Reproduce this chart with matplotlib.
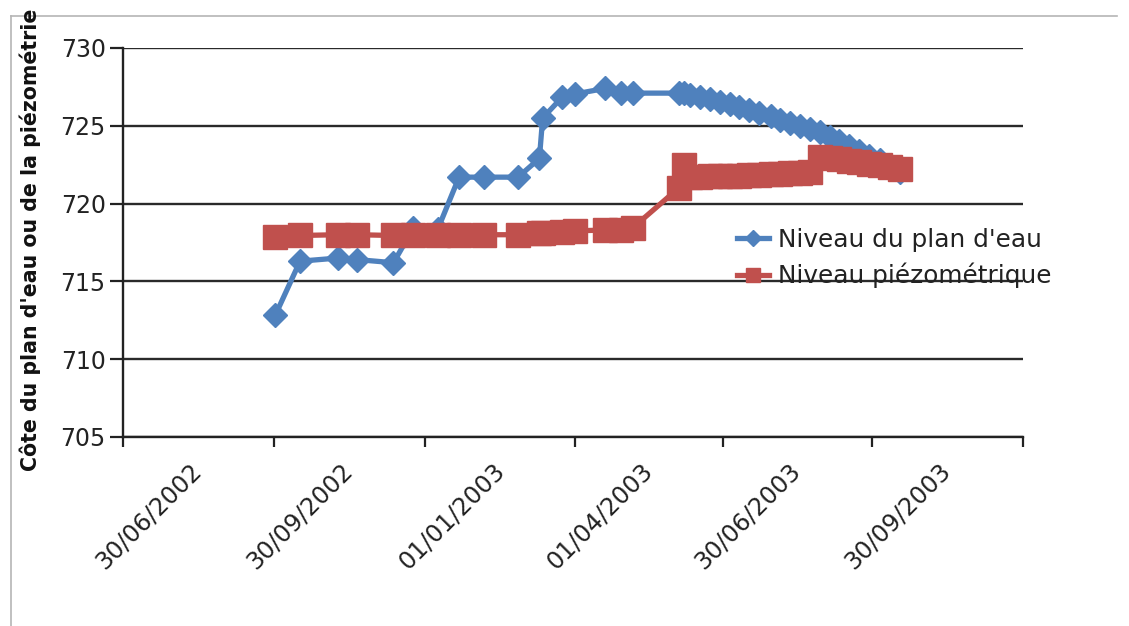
import matplotlib
matplotlib.use("Agg")
import matplotlib.pyplot as plt
import matplotlib.dates as mdates
import matplotlib.transforms as mtransforms
from matplotlib.lines import Line2D
import numpy as np
from datetime import datetime

# Survey dates (shared by both series)
dates = [
    "2002-08-16", "2002-08-31", "2002-09-23", "2002-10-05", "2002-10-27",
    "2002-11-08", "2002-11-23", "2002-12-06", "2002-12-21", "2003-01-11",
    "2003-01-24", "2003-01-26", "2003-02-07", "2003-02-15", "2003-03-05",
    "2003-03-15", "2003-03-22", "2003-04-19", "2003-04-22", "2003-04-26",
    "2003-05-02", "2003-05-08", "2003-05-14", "2003-05-20", "2003-05-26",
    "2003-06-01", "2003-06-07", "2003-06-14", "2003-06-20", "2003-06-26",
    "2003-07-02", "2003-07-08", "2003-07-14", "2003-07-20", "2003-07-26",
    "2003-08-01", "2003-08-07", "2003-08-13", "2003-08-20", "2003-08-26",
    "2003-09-01",
]

# Reservoir water level (m)
niveau_plan_eau = [
    712.85, 716.3, 716.5, 716.4, 716.2,
    718.4, 718.35, 721.7, 721.7, 721.7,
    722.9, 725.5, 726.85, 727.05, 727.4,
    727.1, 727.1, 727.1, 727.1, 727.0,
    726.85, 726.7, 726.55, 726.4, 726.2,
    726.0, 725.8, 725.6, 725.4, 725.2,
    725.0, 724.8, 724.6, 724.3, 724.0,
    723.7, 723.35, 723.05, 722.8, 722.45,
    722.05,
]

# Piezometric level (m)
niveau_piezometrique = [
    717.85, 717.95, 718.0, 718.0, 717.95,
    718.0, 718.0, 718.0, 718.0, 718.0,
    718.1, 718.1, 718.2, 718.25, 718.3,
    718.3, 718.45, 721.0, 722.5, 721.7,
    721.7, 721.75, 721.75, 721.8, 721.8,
    721.85, 721.85, 721.9, 721.9, 721.95,
    721.95, 722.0, 723.0, 722.95, 722.85,
    722.75, 722.65, 722.55, 722.45, 722.35,
    722.2,
]

tick_labels = ["30/06/2002", "30/09/2002", "01/01/2003",
               "01/04/2003", "30/06/2003", "30/09/2003"]
series_names = ["Niveau du plan d'eau", "Niveau piézométrique"]
y_ticks = [705, 710, 715, 720, 725, 730]

BLUE = "#4F81BD"
RED = "#C0504D"

x = [datetime.strptime(d, "%Y-%m-%d") for d in dates]
label_pos = mdates.date2num([datetime.strptime(t, "%d/%m/%Y") for t in tick_labels])
# tick marks sit between the date labels
bounds = np.concatenate([
    [label_pos[0] - (label_pos[1] - label_pos[0]) / 2],
    (label_pos[:-1] + label_pos[1:]) / 2,
    [label_pos[-1] + (label_pos[-1] - label_pos[-2]) / 2],
])

W, H = 1129, 626
fig = plt.figure(figsize=(W / 100, H / 100), dpi=100)
ax = fig.add_axes([123 / W, 1 - 437 / H, 900 / W, 389 / H])

ax.plot(x, niveau_plan_eau, color=BLUE, lw=3.8, marker="D", ms=12,
        mec=BLUE, zorder=3)
ax.plot(x, niveau_piezometrique, color=RED, lw=3.8, marker="s", ms=17.5,
        mec=RED, zorder=4)

ax.set_xlim(bounds[0], bounds[-1])
ax.set_ylim(705, 730)
ax.set_yticks(y_ticks)
ax.set_yticklabels([str(v) for v in y_ticks])
ax.yaxis.grid(True, color="#2a2a2a", lw=1.7, zorder=0)
ax.set_axisbelow(True)

for s in ("top", "right"):
    ax.spines[s].set_visible(False)
for s in ("left", "bottom"):
    ax.spines[s].set_color("#222222")
    ax.spines[s].set_linewidth(1.7)

ax.tick_params(axis="y", which="major", direction="out", length=9.5,
               width=1.6, color="#222222", labelsize=17, pad=3,
               labelcolor="#222222")

ax.set_xticks(bounds)
ax.set_xticklabels([""] * len(bounds))
ax.tick_params(axis="x", which="major", direction="out", length=7.5,
               width=1.6, color="#222222")
ax.set_xticks(label_pos, minor=True)
ax.set_xticklabels(tick_labels, minor=True, rotation=45, ha="right",
                   va="top", rotation_mode="anchor", fontsize=17.3,
                   color="#222222")
ax.tick_params(axis="x", which="minor", length=0, pad=17)
shift = mtransforms.ScaledTranslation(-9 / 100, 2 / 100, fig.dpi_scale_trans)
for lab in ax.get_xticklabels(minor=True):
    lab.set_transform(lab.get_transform() + shift)

fig.text(30 / W, 1 - 240 / H, "Côte du plan d'eau ou de la piézométrie",
         rotation=90, ha="center", va="center", fontsize=14.8,
         fontweight="bold", color="#111111")

handles = [
    Line2D([], [], color=BLUE, lw=3.8, marker="D", ms=8, mec=BLUE),
    Line2D([], [], color=RED, lw=3.8, marker="s", ms=9.5, mec=RED),
]
fig.legend(handles, series_names, loc="center left",
           bbox_to_anchor=(737 / W, 1 - 258 / H), frameon=False,
           fontsize=17.8, handlelength=1.3, handletextpad=0.35,
           labelspacing=0.45, borderpad=0, borderaxespad=0,
           labelcolor="#222222")

# outer chart frame
fig.add_artist(Line2D([11 / W, 11 / W], [0, 1 - 16 / H], color="#b5b5b5",
                      lw=1.2, transform=fig.transFigure))
fig.add_artist(Line2D([11 / W, 1117 / W], [1 - 16 / H, 1 - 16 / H],
                      color="#b5b5b5", lw=1.2, transform=fig.transFigure))

fig.savefig("out.png", dpi=100)
